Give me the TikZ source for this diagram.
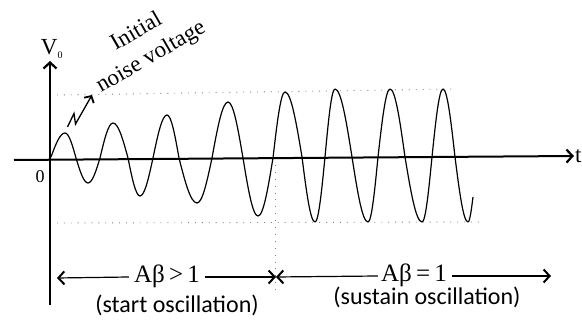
\documentclass[tikz,border=0pt]{standalone}
\usepackage{fontspec}
\setmainfont{Liberation Serif}
\newfontfamily\labfont{Carlito}
\usetikzlibrary{arrows.meta}
\begin{document}
\begin{tikzpicture}[x=1pt,y=-1pt,
  axis/.style={line width=2pt,-{Straight Barb[length=6pt,width=13pt,line width=2.2pt]}},
  wave/.style={line width=1.2pt,line join=round},
  guide/.style={gray,line width=0.9pt,dash pattern=on 0.9pt off 6pt},
  span/.style={line width=1.2pt,-{Straight Barb[length=6pt,width=13pt,line width=2pt]}},
  noise/.style={line width=1.3pt,line join=miter,-{Straight Barb[length=5pt,width=11pt,line width=1.8pt]}},
  big/.style={font=\fontsize{23}{27}\selectfont},
  ab/.style={font=\fontsize{25}{28}\selectfont},
  lab/.style={font=\labfont\fontsize{24}{28}\selectfont},
  every node/.style={inner sep=1pt}]
\useasboundingbox (0,0) rectangle (582,328);
\fill[white] (0,0) rectangle (582,328);
% axes
\coordinate (ybot) at (50,305);
\coordinate (ytop) at (50,61);
\coordinate (xl) at (14,160);
\coordinate (xr) at (574,156);
\draw[axis] (ybot) -- (ytop);
\draw[axis] (xl) -- (xr);
\node[big, anchor=west] (tlab) at (574,156) {t};
\node[big] (v0) at (52,49) {V\textsubscript{\fontsize{10}{10}\selectfont 0}};
\node[font=\fontsize{18}{20}\selectfont] (zero) at (40,177) {0};
% guide lines
\coordinate (gt1) at (57,95); \coordinate (gt2) at (457,89);
\coordinate (gb1) at (57,223); \coordinate (gb2) at (480,222);
\coordinate (gv1) at (275,165); \coordinate (gv2) at (275,294);
\draw[guide] (gt1) -- (gt2);
\draw[guide] (gb1) -- (gb2);
\draw[guide] (gv1) -- (gv2);
% wave
\draw[wave] (51,157) sin (65,133) cos (76,158) sin (88,183) cos (100,158)
  sin (113,123) cos (128,158) sin (140,196) cos (153,158)
  sin (167,115) cos (179,158) sin (197,203) cos (212,158)
  sin (228,102) cos (243,158) sin (258,216) cos (273,158)
  sin (285,92) cos (302,157) sin (315,222) cos (325,157)
  sin (335,89) cos (352,157) sin (368,222) cos (378,157)
  sin (390,89) cos (405,157) sin (422,222) cos (432,157)
  sin (443,89) cos (455,157) sin (468,222) cos (473,197);
% noise arrow
\coordinate (n1) at (67.5,127); \coordinate (n2) at (74,113.5);
\coordinate (n3) at (75.5,124); \coordinate (n4) at (92,95);
\draw[noise] (n1) -- (n2) -- (n3) -- (n4);
\node[rotate=30, align=center, font=\fontsize{23}{29}\selectfont] (nv) at (144,45) {Initial\\noise voltage};
% bottom spans
\node[ab] (ab1) at (167,276) {Aβ\,>\,1};
\node[ab] (ab2) at (414,275) {Aβ\,=\,1};
\coordinate (lft) at (57,278);
\coordinate (mid) at (276,277);
\coordinate (rgt) at (551,276);
\draw[span] (ab1.west) ++(-4,1) coordinate (a1w) (a1w) -- (lft);
\draw[span] (ab1.east) ++(4,1) coordinate (a1e) (a1e) -- (mid);
\draw[span] (ab2.west) ++(-2,1) coordinate (a2w) (a2w) -- (mid);
\draw[span] (ab2.east) ++(4,1) coordinate (a2e) (a2e) -- (rgt);
\node[lab] (so) at (177,305) {(start oscillation)};
\node[lab] (su) at (427,297) {(sustain oscillation)};
\end{tikzpicture}
\end{document}
